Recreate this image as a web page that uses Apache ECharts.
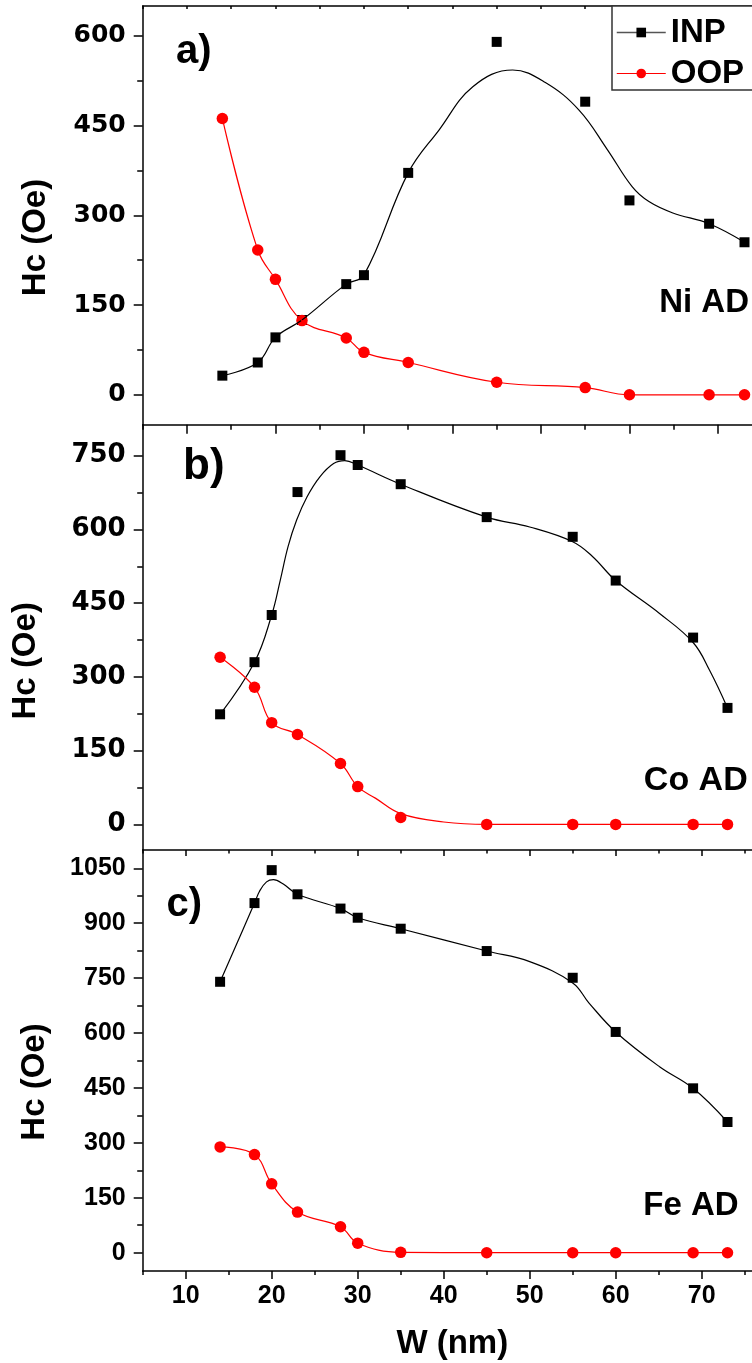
<!DOCTYPE html>
<html>
<head>
<meta charset="utf-8">
<title>Hc vs W</title>
<script src="https://cdn.jsdelivr.net/npm/echarts@6.0.0/dist/echarts.min.js"></script>
<style>
    html, body { margin: 0; padding: 0; background: #fff; overflow: hidden; width: 752px; height: 1363px; }
    /* plot frames run past the right edge of the picture, so the canvas is wider than the page */
    #main { width: 800px; height: 1363px; }
</style>
</head>
<body>
<div id="main"></div>
<script>
// W (nm) of the samples, shared by the three panels
var widthNm = [14, 18, 20, 23, 28, 30, 35, 45, 55, 60, 69, 73];

// a) Ni AD
var niInp = [32, 54, 96, 125, 185, 200, 371, 590, 490, 325, 286, 255];
var niOop = [462, 242, 193, 124, 95, 71, 54, 21, 12, 0, 0, 0];
// b) Co AD
var coInp = [224, 330, 426, 676, 751, 731, 692, 625, 585, 496, 380, 237];
var coOop = [340, 279, 207, 183, 124, 77, 14, 0, 0, 0, 0, 0];
// c) Fe AD
var feInp = [740, 955, 1045, 979, 940, 915, 885, 824, 751, 603, 449, 357];
var feOop = [289, 268, 188, 111, 71, 26, 1, 0, 0, 0, 0, 0];

// fitted curves (they do not pass through every point)
var niInpCurve = [[14, 32], [18, 54], [20, 96], [23, 125], [28, 185], [30, 200], [35, 371], [38.5, 443],
    [42.3, 515], [46.8, 543], [50.5, 522], [54.3, 476], [57.5, 410],
    [60.3, 348], [62.2, 323], [64.9, 304], [69, 286], [73, 255]];
var coInpCurve = [[14, 224], [18, 330], [20, 426], [21, 497], [21.9, 565], [22.9, 619], [24.1, 666],
    [25.6, 707], [27.2, 734], [28.5, 740], [30, 731], [35, 692], [45, 625], [50, 605],
    [55, 575], [57.3, 545], [60, 496], [65.1, 429], [69, 370], [70.9, 314], [73, 237]];
var coOopCurve = [[14, 340], [18, 279], [20, 207], [23, 183], [28, 124], [30, 77], [32.1, 53], [35, 22],
    [40, 5], [45, 0], [55, 0], [60, 0], [69, 0], [73, 0]];
var feInpCurve = [[14, 740], [18, 955], [18.6, 988], [19.4, 1013], [20.2, 1019], [21.35, 1007], [23, 979],
    [28, 940], [30, 915], [35, 885], [45, 824], [50, 795], [55, 737], [56.9, 682], [60, 603],
    [65.1, 508], [69, 449], [73, 357]];

// tick values
var niTicks = [0, 150, 300, 450, 600];
var niMinor = [75, 225, 375, 525];
var coTicks = [0, 150, 300, 450, 600, 750];
var coMinor = [75, 225, 375, 525, 675];
var feTicks = [0, 150, 300, 450, 600, 750, 900, 1050];
var feMinor = [75, 225, 375, 525, 675, 825, 975];
var wTicks = [10, 20, 30, 40, 50, 60, 70];
var wMinor = [5, 15, 25, 35, 45, 55, 65, 75];

var BOLD = 'bold';
var LINE = { color: '#000', width: 1.5 };

function zip(xs, ys) {
    var out = [];
    for (var i = 0; i < xs.length; i++) {
        out.push([xs[i], ys[i]]);
    }
    return out;
}

// plain numbers, no thousands separator
function plain(v) {
    return String(v);
}

function xAxis(grid, ticks, len, opt) {
    opt = opt || {};
    return {
        type: 'value', gridIndex: grid, min: 5, max: 77,
        position: opt.position || 'bottom',
        splitLine: { show: false },
        axisLine: { show: opt.line !== false, onZero: false, lineStyle: LINE },
        axisTick: { show: true, inside: !!opt.inside, length: len, customValues: ticks, lineStyle: LINE },
        axisLabel: opt.label ? {
            show: true, customValues: ticks, margin: 13, color: '#000', formatter: plain,
            fontFamily: 'Liberation Sans', fontSize: 25, fontWeight: BOLD
        } : { show: false }
    };
}

function yAxis(grid, min, max, ticks, len, label) {
    return {
        type: 'value', gridIndex: grid, min: min, max: max, position: 'left',
        splitLine: { show: false },
        axisLine: { show: !!label, onZero: false, lineStyle: LINE },
        axisTick: { show: true, length: len, customValues: ticks, lineStyle: LINE },
        axisLabel: label ? {
            show: true, customValues: ticks, margin: 17, color: '#000', formatter: plain,
            fontFamily: label.font, fontSize: label.size, fontWeight: BOLD
        } : { show: false }
    };
}

function panelSeries(xi, yi, inpCurve, inpPts, oopCurve, oopPts) {
    return [
        {
            type: 'line', name: 'INP', xAxisIndex: xi, yAxisIndex: yi, data: inpCurve,
            smooth: 0.4, showSymbol: false, symbol: 'rect',
            lineStyle: { color: '#000', width: 1.2 }, itemStyle: { color: '#000' }
        },
        {
            type: 'scatter', name: 'INP', xAxisIndex: xi, yAxisIndex: yi, data: inpPts,
            symbol: 'rect', symbolSize: 10, itemStyle: { color: '#000', opacity: 1 }
        },
        {
            type: 'line', name: 'OOP', xAxisIndex: xi, yAxisIndex: yi, data: oopCurve,
            smooth: 0.4, showSymbol: false, symbol: 'circle',
            lineStyle: { color: '#ff0000', width: 1.2 }, itemStyle: { color: '#ff0000' }
        },
        {
            type: 'scatter', name: 'OOP', xAxisIndex: xi, yAxisIndex: yi, data: oopPts,
            symbol: 'circle', symbolSize: 11.5, itemStyle: { color: '#ff0000', opacity: 1 }
        }
    ];
}

function label(text, x, y, size, align, rot) {
    var font = BOLD + ' ' + size + 'px "Liberation Sans"';
    return {
        type: 'text', x: x, y: y, rotation: rot || 0, silent: true,
        style: {
            text: text, font: font, fill: '#000',
            textAlign: align, align: align,
            textVerticalAlign: 'middle', verticalAlign: 'middle'
        }
    };
}

var chart = echarts.init(document.getElementById('main'), null, { renderer: 'canvas' });

var series = []
    .concat(panelSeries(0, 0, niInpCurve, zip(widthNm, niInp), zip(widthNm, niOop), zip(widthNm, niOop)))
    .concat(panelSeries(3, 2, coInpCurve, zip(widthNm, coInp), coOopCurve, zip(widthNm, coOop)))
    .concat(panelSeries(5, 4, feInpCurve, zip(widthNm, feInp), zip(widthNm, feOop), zip(widthNm, feOop)));

var option = {
    animation: false,
    backgroundColor: '#fff',
    grid: [
        { left: 142.7, top: 6, width: 637.2, height: 418.7 },
        { left: 142.7, top: 424.7, width: 619.2, height: 425.3 },
        { left: 142.7, top: 850, width: 619.2, height: 421 }
    ],
    xAxis: [
        xAxis(0, wTicks, 9),
        xAxis(0, wMinor, 5, { line: false }),
        xAxis(0, wTicks.concat(wMinor), 3, { position: 'top', inside: true }),
        xAxis(1, wTicks, 6),
        xAxis(1, wMinor, 3.5, { line: false }),
        (function () {
            var ax = xAxis(2, wTicks, 8, { label: true });
            ax.name = 'W (nm)';
            ax.nameLocation = 'middle';
            ax.nameGap = 56;
            ax.nameTextStyle = { color: '#000', fontFamily: 'Liberation Sans', fontSize: 33, fontWeight: BOLD };
            return ax;
        })(),
        xAxis(2, wMinor, 4, { line: false })
    ],
    yAxis: [
        yAxis(0, -50, 650, niTicks, 9, { font: 'DejaVu Sans', size: 25 }),
        yAxis(0, -50, 650, niMinor, 5.5),
        yAxis(1, -52, 813, coTicks, 9, { font: 'DejaVu Sans', size: 26 }),
        yAxis(1, -52, 813, coMinor, 5.5),
        yAxis(2, -50, 1100, feTicks, 9, { font: 'Liberation Sans', size: 25 }),
        yAxis(2, -50, 1100, feMinor, 5.5)
    ],
    legend: {
        orient: 'vertical', left: 612, top: 6,
        padding: [10, 60, 0, 4], itemGap: 8,
        itemWidth: 49, itemHeight: 12,
        selectedMode: false,
        backgroundColor: '#fff', borderColor: '#333', borderWidth: 1.5,
        textStyle: { color: '#000', fontFamily: 'Liberation Sans', fontSize: 33, fontWeight: BOLD },
        data: [
            { name: 'INP', lineStyle: { color: '#555', width: 1.5 } },
            { name: 'OOP', lineStyle: { color: '#ff0000', width: 1.2 } }
        ]
    },
    graphic: [
        label('Hc (Oe)', 36.4, 237.5, 33, 'center', Math.PI / 2),
        label('Hc (Oe)', 25.9, 660.8, 33, 'center', Math.PI / 2),
        label('Hc (Oe)', 34.9, 1082, 33, 'center', Math.PI / 2),
        label('a)', 176, 51.8, 40, 'left'),
        label('b)', 183, 467.2, 44, 'left'),
        label('c)', 166.5, 905, 40, 'left'),
        label('Ni AD', 749, 302.6, 33, 'right'),
        label('Co AD', 747.7, 781, 34, 'right'),
        label('Fe AD', 738.7, 1205.5, 33, 'right')
    ],
    series: series
};

chart.setOption(option);
</script>
</body>
</html>
